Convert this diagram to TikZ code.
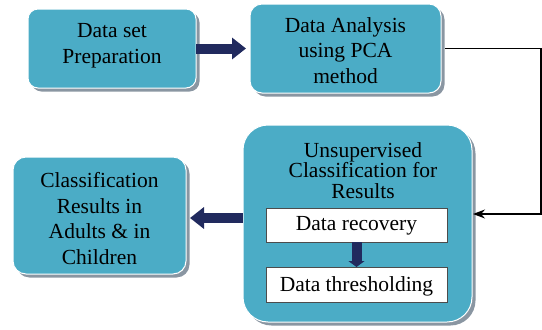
\documentclass[tikz,border=0pt]{standalone}
\usepackage{fontspec}
\setmainfont{Liberation Serif}
\usetikzlibrary{shadows,arrows.meta}
\definecolor{boxfill}{HTML}{4BACC6}
\definecolor{shadowgrey}{HTML}{8A96A2}
\definecolor{navy}{HTML}{212A5E}
\tikzset{
  bluebox/.style={draw=white, line width=1pt, fill=boxfill, inner sep=0pt, outer sep=0pt,
    align=center,
    drop shadow={shadow xshift=3.5pt, shadow yshift=-3.5pt, fill=shadowgrey, opacity=1}},
  whitebox/.style={draw=black!70, line width=0.6pt, fill=white, inner sep=0pt, outer sep=0pt,
    font=\fontsize{21.5}{26}\selectfont},
  fat/.style={draw=navy, line width=10pt, -{Triangle[length=14pt,width=21pt]}},
  fatsmall/.style={draw=navy, line width=10pt, -{Triangle[length=6pt,width=16pt]}},
  conn/.style={draw=black, line width=1.3pt, -{Stealth[length=12pt,width=9pt]}},
}
\begin{document}
\begin{tikzpicture}[x=1pt,y=-1pt]
\useasboundingbox (0,0) rectangle (542,330);
\node[bluebox, rounded corners=10pt, minimum width=168pt, minimum height=79pt,
  font=\fontsize{21.5}{26}\selectfont, text height=29pt, text depth=0pt] (prep) at (112,48.5) {Data set\\Preparation};
\node[bluebox, rounded corners=12pt, minimum width=191pt, minimum height=89pt,
  font=\fontsize{21.5}{25.5}\selectfont, text height=69pt, text depth=0pt] (pca) at (345.5,48.5) {Data Analysis\\using PCA\\method};
\node[bluebox, rounded corners=13pt, minimum width=173pt, minimum height=117pt,
  font=\fontsize{21.5}{25.5}\selectfont, text height=97pt, text depth=0pt] (res) at (99.5,215.5) {Classification\\Results in\\Adults \& in\\Children};
\node[bluebox, rounded corners=25pt, minimum width=229pt, minimum height=197pt] (big) at (357.5,223.5) {};
\node[align=center, inner sep=0pt, anchor=base, font=\fontsize{21.5}{20.5}\selectfont] (bigtitle) at (363,198) {Unsupervised\\Classification for\\Results};
\node[whitebox, minimum width=181pt, minimum height=34pt, text height=10pt, text depth=0pt] (rec) at (356.5,225) {Data recovery};
\node[whitebox, minimum width=181pt, minimum height=35pt, text height=14.4pt, text depth=0pt] (thr) at (356.5,284.5) {Data thresholding};
\coordinate (turn) at (541,214);
\draw[fat] (prep.east) -- ([xshift=-4pt]pca.west);
\draw[fat] (big.west |- 0,218) -- ([xshift=4pt]res.east |- 0,218);
\draw[fatsmall] (rec.south) -- (thr.north);
\draw[conn] ([xshift=4pt]pca.east) -| (turn) -- ([xshift=1pt]big.east |- turn);
\end{tikzpicture}
\end{document}
